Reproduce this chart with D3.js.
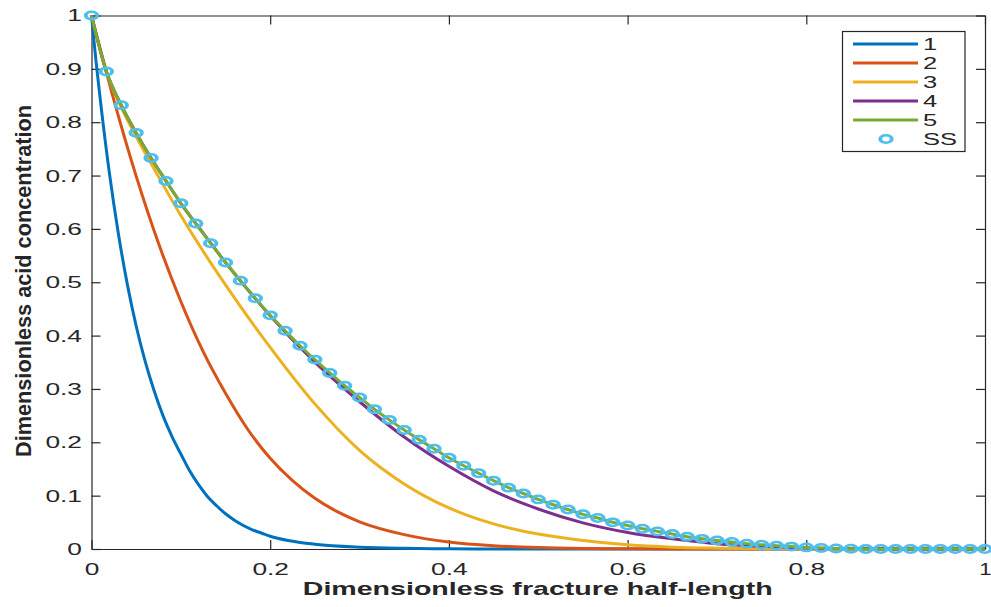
<!DOCTYPE html>
<html>
<head>
<meta charset="utf-8">
<script src="https://cdn.jsdelivr.net/npm/d3@7"></script>
<style>
  body { margin: 0; background: #ffffff; }
  svg { display: block; }
  text { font-family: "Liberation Sans", Arial, Helvetica, sans-serif; fill: #262626; }
</style>
</head>
<body>
<svg id="chart" width="991" height="607"></svg>
<script>
// ---- axis ticks ----
const xTickValues = [0, 0.2, 0.4, 0.6, 0.8, 1];
const xTickLabels = ["0", "0.2", "0.4", "0.6", "0.8", "1"];
const yTickValues = [0, 0.1, 0.2, 0.3, 0.4, 0.5, 0.6, 0.7, 0.8, 0.9, 1];
const yTickLabels = ["0", "0.1", "0.2", "0.3", "0.4", "0.5", "0.6", "0.7", "0.8", "0.9", "1"];

// ---- legend ----
const seriesNames = ["1", "2", "3", "4", "5", "SS"];
const seriesColors = ["#0072BD", "#D95319", "#EDB120", "#7E2F8E", "#77AC30", "#4DBEEE"];

// ---- series 1 ----
const pos1 = [0, 0.005, 0.01, 0.02, 0.03, 0.04, 0.05, 0.06, 0.07, 0.08, 0.09, 0.1, 0.11, 0.12, 0.13, 0.14,
  0.15, 0.16, 0.17, 0.18, 0.19, 0.2, 0.22, 0.25, 0.3, 0.35, 0.4, 0.45, 0.6, 0.8, 1];
const conc1 = [1, 0.915, 0.84, 0.705, 0.592, 0.497, 0.418, 0.352, 0.297, 0.250, 0.211, 0.178, 0.146, 0.120, 0.098, 0.081,
  0.066, 0.054, 0.044, 0.036, 0.030, 0.024, 0.016, 0.009, 0.0035, 0.0013, 0.0005, 0.0001, 0, 0, 0];

// ---- series 2 ----
const pos2 = [0, 0.025, 0.05, 0.075, 0.1, 0.125, 0.15, 0.175, 0.2, 0.225, 0.25, 0.275, 0.3, 0.35, 0.4,
  0.45, 0.5, 0.55, 0.6, 0.7, 0.85, 1];
const conc2 = [1, 0.842, 0.699, 0.573, 0.464, 0.370, 0.292, 0.224, 0.170, 0.128, 0.095, 0.070, 0.051, 0.027, 0.013,
  0.006, 0.0026, 0.001, 0.0004, 0, 0, 0];

// ---- series 3 ----
const pos3 = [0, 0.0167, 0.0333, 0.05, 0.075, 0.1, 0.125, 0.15, 0.175, 0.2, 0.25, 0.3, 0.35, 0.4, 0.45,
  0.5, 0.55, 0.6, 0.65, 0.7, 0.75, 0.8, 0.9, 1];
const conc3 = [1, 0.893, 0.828, 0.773, 0.698, 0.625, 0.558, 0.495, 0.435, 0.378, 0.272, 0.185, 0.122, 0.077, 0.047,
  0.028, 0.016, 0.008, 0.0035, 0.0015, 0.0005, 0, 0, 0];

// ---- series 4 ----
const pos4 = [0, 0.0167, 0.0333, 0.05, 0.0667, 0.0833, 0.1, 0.125, 0.15, 0.175, 0.2, 0.25, 0.3, 0.35, 0.4,
  0.45, 0.5, 0.55, 0.6, 0.65, 0.7, 0.75, 0.8, 0.85, 0.9, 1];
const conc4 = [1, 0.895, 0.832, 0.780, 0.733, 0.690, 0.648, 0.592, 0.537, 0.486, 0.437, 0.350, 0.276, 0.210, 0.155,
  0.109, 0.075, 0.049, 0.031, 0.019, 0.010, 0.005, 0.002, 0.0008, 0.0002, 0];

// ---- steady-state solution (series 5 follows the same values) ----
const posSS = d3.range(61).map(i => i / 60);
const concSS = [1.000, 0.895, 0.832, 0.780, 0.733, 0.690, 0.648, 0.610, 0.573, 0.537,
  0.503, 0.470, 0.438, 0.409, 0.381, 0.355, 0.330, 0.306, 0.284, 0.262,
  0.242, 0.223, 0.205, 0.188, 0.171, 0.156, 0.142, 0.128, 0.115, 0.104,
  0.093, 0.083, 0.074, 0.065, 0.058, 0.050, 0.044, 0.038, 0.033, 0.028,
  0.023, 0.019, 0.016, 0.013, 0.010, 0.008, 0.006, 0.0045, 0.003, 0.002,
  0.001, 0.0005, 0, 0, 0, 0, 0, 0, 0, 0, 0];
const pos5 = posSS;
const conc5 = concSS;

// ---- layout ----
const svg = d3.select("#chart");
const plotLeft = 91.5, plotRight = 985, plotTop = 15.5, plotBottom = 549;
const TEXT_SX = 1.55;   // horizontal text stretch

const x = d3.scaleLinear().domain([0, 1]).range([plotLeft, plotRight]);
const y = d3.scaleLinear().domain([0, 1]).range([plotBottom, plotTop]);

const axisColor = "#262626";
function styleAxis(g) {
  g.selectAll("path.domain").attr("stroke", axisColor).attr("stroke-width", 1.2);
  g.selectAll(".tick line").attr("stroke", axisColor).attr("stroke-width", 1.2);
}

// bottom axis with labels
const gx = svg.append("g")
  .attr("transform", `translate(0,${plotBottom})`)
  .call(d3.axisBottom(x).tickValues(xTickValues)
    .tickFormat((d, i) => xTickLabels[i])
    .tickSizeInner(-9).tickSizeOuter(0).tickPadding(14));
styleAxis(gx);
gx.selectAll(".tick text")
  .attr("font-size", 17).attr("fill", axisColor)
  .attr("transform", (d, i) => `scale(${i === xTickValues.length - 1 ? 1.3 : TEXT_SX},1)`);

// top axis (ticks only)
const gxt = svg.append("g")
  .attr("transform", `translate(0,${plotTop})`)
  .call(d3.axisTop(x).tickValues(xTickValues).tickFormat("")
    .tickSizeInner(-9).tickSizeOuter(0));
styleAxis(gxt);

// left axis with labels
const gy = svg.append("g")
  .attr("transform", `translate(${plotLeft},0)`)
  .call(d3.axisLeft(y).tickValues(yTickValues)
    .tickFormat((d, i) => yTickLabels[i])
    .tickSizeInner(-9).tickSizeOuter(0).tickPadding(9.5));
styleAxis(gy);
gy.selectAll(".tick text")
  .attr("font-size", 17).attr("fill", axisColor)
  .attr("x", -9.5 / TEXT_SX)
  .attr("transform", `scale(${TEXT_SX},1)`);

// right axis (ticks only)
const gyr = svg.append("g")
  .attr("transform", `translate(${plotRight},0)`)
  .call(d3.axisRight(y).tickValues(yTickValues).tickFormat("")
    .tickSizeInner(-9).tickSizeOuter(0));
styleAxis(gyr);

// ---- curves ----
const line = d3.line()
  .x(d => x(d[0]))
  .y(d => y(d[1]))
  .curve(d3.curveMonotoneX);

const curves = [
  [pos1, conc1],
  [pos2, conc2],
  [pos3, conc3],
  [pos4, conc4],
  [pos5, conc5]
];

const plot = svg.append("g");
curves.forEach(([px, py], i) => {
  plot.append("path")
    .datum(px.map((v, k) => [v, py[k]]))
    .attr("fill", "none")
    .attr("stroke", seriesColors[i])
    .attr("stroke-width", 3)
    .attr("stroke-linejoin", "round")
    .attr("d", line);
});

// steady-state markers
plot.selectAll("circle.ss")
  .data(posSS.map((v, k) => [v, concSS[k]]))
  .join("circle")
  .attr("class", "ss")
  .attr("r", 3.7)
  .attr("fill", "none")
  .attr("stroke", seriesColors[5])
  .attr("stroke-width", 2.5)
  .attr("transform", d => `translate(${x(d[0])},${y(d[1])}) scale(${TEXT_SX},1)`);

// ---- axis titles ----
svg.append("text")
  .attr("x", (plotLeft + plotRight) / 2 - 0.5)
  .attr("y", 595)
  .attr("text-anchor", "middle")
  .attr("font-size", 19)
  .attr("font-weight", "bold")
  .attr("textLength", 470)
  .attr("lengthAdjust", "spacingAndGlyphs")
  .text("Dimensionless fracture half-length");

svg.append("text")
  .attr("transform", `translate(31,281) scale(${TEXT_SX},1) rotate(-90)`)
  .attr("text-anchor", "middle")
  .attr("font-size", 14.5)
  .attr("font-weight", "bold")
  .attr("textLength", 352)
  .attr("lengthAdjust", "spacingAndGlyphs")
  .text("Dimensionless acid concentration");

// ---- legend ----
const legend = svg.append("g");
legend.append("rect")
  .attr("x", 842.5).attr("y", 31.5)
  .attr("width", 122.5).attr("height", 120)
  .attr("fill", "#ffffff")
  .attr("stroke", axisColor).attr("stroke-width", 1.2);

seriesNames.forEach((name, i) => {
  const ry = 44 + i * 19;
  if (i < 5) {
    legend.append("line")
      .attr("x1", 853).attr("x2", 918)
      .attr("y1", ry).attr("y2", ry)
      .attr("stroke", seriesColors[i]).attr("stroke-width", 3);
  } else {
    legend.append("circle")
      .attr("r", 3.7)
      .attr("fill", "none")
      .attr("stroke", seriesColors[i])
      .attr("stroke-width", 2.5)
      .attr("transform", `translate(886,${ry}) scale(${TEXT_SX},1)`);
  }
  legend.append("text")
    .attr("transform", `translate(923,${ry + 6}) scale(1.5,1)`)
    .attr("font-size", 17)
    .text(name);
});
</script>
</body>
</html>
